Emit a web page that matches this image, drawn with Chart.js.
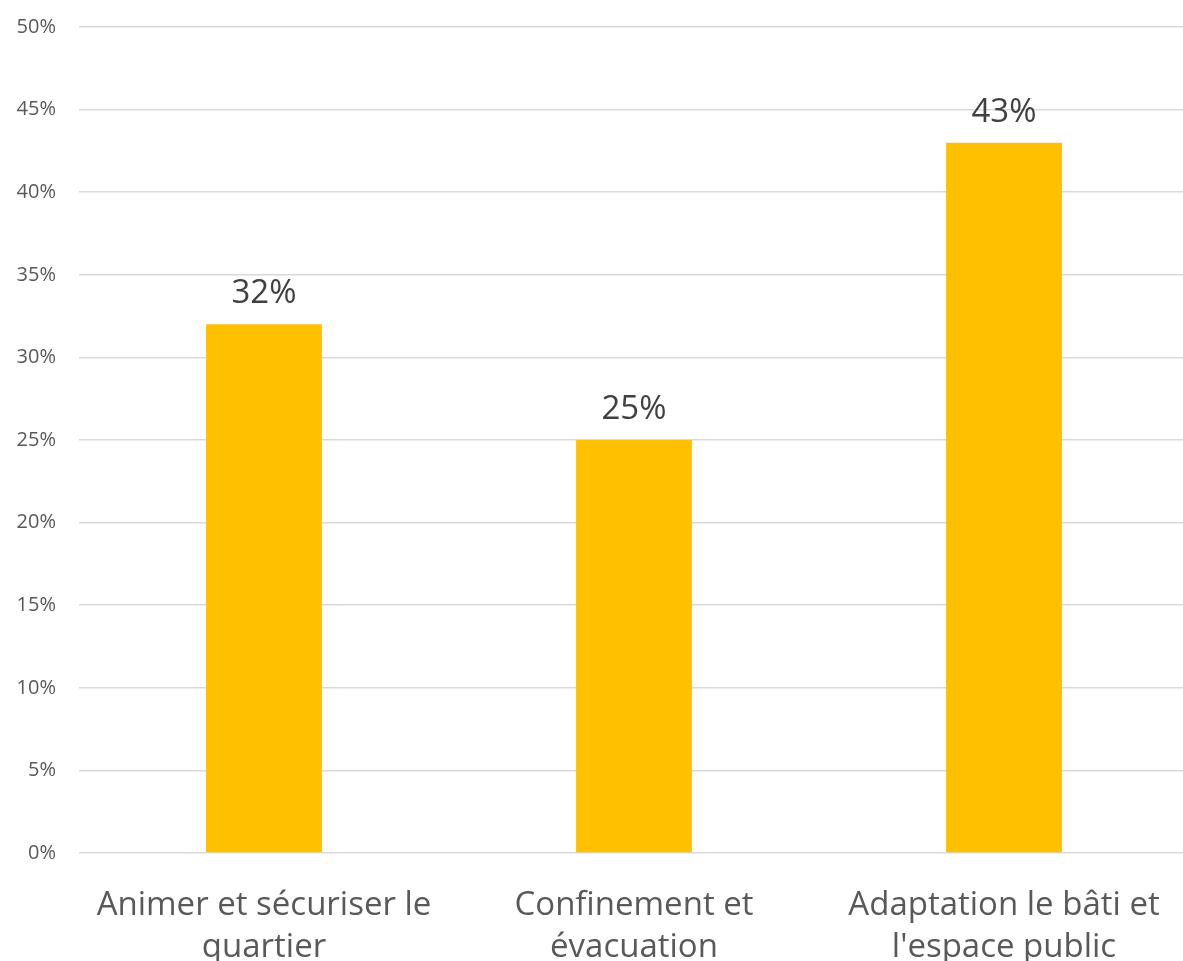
<!DOCTYPE html>
<html>
<head>
<meta charset="utf-8">
<script src="https://cdn.jsdelivr.net/npm/chart.js@4"></script>
<style>
  html, body { margin: 0; padding: 0; background: #fff; overflow: hidden; }
  #wrap { width: 1183px; height: 961px; overflow: hidden; }
  #box { width: 1189px; height: 980px; }
</style>
</head>
<body>
<div id="wrap"><div id="box"><canvas id="chart"></canvas></div></div>
<script>
// Chart data
const categories = [
    ['Animer et sécuriser le', 'quartier'],
    ['Confinement et', 'évacuation'],
    ['Adaptation le bâti et', "l'espace public"]
];
const values = [32, 25, 43];
const yTicks = [0, 5, 10, 15, 20, 25, 30, 35, 40, 45, 50];

// Draw value labels above each bar
const valueLabels = {
    id: 'valueLabels',
    afterDatasetsDraw(chart) {
        const ctx = chart.ctx;
        const meta = chart.getDatasetMeta(0);
        ctx.save();
        ctx.font = '33px "Open Sans"';
        ctx.fillStyle = '#404040';
        ctx.textAlign = 'center';
        ctx.textBaseline = 'alphabetic';
        meta.data.forEach((bar, i) => {
            ctx.fillText(values[i] + '%', bar.x, bar.y - 21);
        });
        ctx.restore();
    }
};

new Chart(document.getElementById('chart'), {
    type: 'bar',
    data: {
        labels: categories,
        datasets: [{
            data: values,
            backgroundColor: '#FFC000',
            barPercentage: 0.313,
            categoryPercentage: 1
        }]
    },
    options: {
        responsive: true,
        maintainAspectRatio: false,
        animation: false,
        layout: {
            padding: { left: 16, right: 0, top: 27, bottom: 0 }
        },
        plugins: {
            legend: { display: false },
            tooltip: { enabled: false }
        },
        scales: {
            y: {
                min: 0,
                max: 50,
                afterBuildTicks(axis) {
                    axis.ticks = yTicks.map(v => ({ value: v }));
                },
                afterFit(axis) {
                    axis.width = 63;
                    axis.paddingTop = 0;
                },
                border: { display: false },
                grid: {
                    color: '#d9d9d9',
                    lineWidth: 1.5,
                    drawTicks: false
                },
                ticks: {
                    padding: 23,
                    color: '#595959',
                    font: { family: 'Open Sans', size: 20 },
                    callback: v => v + '%'
                }
            },
            x: {
                afterFit(axis) {
                    axis.height = 127;
                },
                border: { display: false },
                grid: { display: false },
                ticks: {
                    padding: 23,
                    color: '#595959',
                    maxRotation: 0,
                    autoSkip: false,
                    font: { family: 'Open Sans', size: 33, lineHeight: 1.28 }
                }
            }
        }
    },
    plugins: [valueLabels]
});
</script>
</body>
</html>
